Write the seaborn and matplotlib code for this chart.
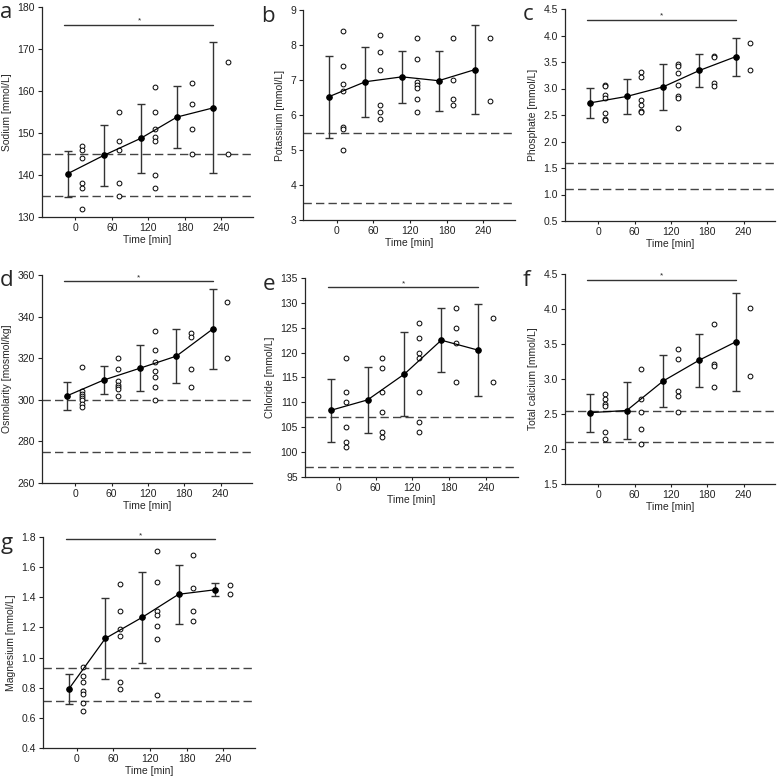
import numpy as np
import pandas as pd
import matplotlib
matplotlib.use("Agg")
import matplotlib.pyplot as plt
import seaborn as sns

# time points (min)
times = [0, 60, 120, 180, 240]

# ---- panel data ----
sodium_mean = [140.3, 144.7, 148.7, 153.8, 156.0]
sodium_sd = [5.5, 7.2, 8.2, 7.4, 15.6]
sodium_pts = [[147, 146, 144, 138, 137, 132], [155, 148, 146, 138, 135],
              [161, 155, 151, 149, 148, 140, 137], [162, 157, 151, 145], [167, 145]]

potassium_mean = [6.52, 6.95, 7.09, 6.98, 7.30]
potassium_sd = [1.18, 1.0, 0.74, 0.86, 1.28]
potassium_pts = [[8.4, 7.4, 6.9, 6.7, 5.65, 5.6, 5.0], [8.3, 7.8, 7.3, 6.28, 6.1, 5.9],
                 [8.2, 7.6, 6.95, 6.85, 6.78, 6.45, 6.1], [8.2, 7.0, 6.45, 6.3], [8.2, 6.4]]

phosphate_mean = [2.73, 2.85, 3.03, 3.34, 3.60]
phosphate_sd = [0.28, 0.33, 0.43, 0.31, 0.36]
phosphate_pts = [[3.06, 3.04, 2.87, 2.82, 2.53, 2.43, 2.41], [3.32, 3.21, 2.78, 2.68, 2.57, 2.55],
                 [3.46, 3.43, 3.30, 3.07, 2.85, 2.83, 2.26], [3.62, 3.60, 3.10, 3.05], [3.86, 3.35]]

osmo_mean = [302.0, 309.5, 315.2, 321.0, 334.0]
osmo_sd = [6.7, 6.6, 11.0, 12.8, 19.2]
osmo_pts = [[316, 304, 303, 302, 301, 300, 298, 296.5], [320, 315, 309, 307, 306, 305, 302],
            [333, 324, 318, 314, 311, 306, 300], [332, 330, 315, 306], [347, 320]]

chloride_mean = [108.4, 110.5, 115.7, 122.5, 120.5]
chloride_sd = [6.3, 6.7, 8.5, 6.4, 9.2]
chloride_pts = [[119, 112, 110, 105, 102, 101], [119, 117, 112, 108, 104, 103],
                [126, 123, 120, 119, 112, 106, 104], [129, 125, 122, 114], [127, 114]]

calcium_mean = [2.52, 2.55, 2.97, 3.27, 3.53]
calcium_sd = [0.27, 0.41, 0.37, 0.38, 0.70]
calcium_pts = [[2.79, 2.71, 2.64, 2.62, 2.25, 2.14], [3.15, 2.71, 2.53, 2.29, 2.07],
               [3.43, 3.28, 2.83, 2.76, 2.53], [3.79, 3.22, 3.19, 2.89], [4.02, 3.04]]

magnesium_mean = [0.79, 1.127, 1.266, 1.42, 1.45]
magnesium_sd = [0.10, 0.27, 0.30, 0.195, 0.043]
magnesium_pts = [[0.94, 0.88, 0.84, 0.78, 0.76, 0.70, 0.645], [1.49, 1.31, 1.19, 1.14, 0.84, 0.79],
                 [1.71, 1.50, 1.31, 1.28, 1.21, 1.12, 0.75], [1.68, 1.46, 1.31, 1.24], [1.48, 1.42]]

# reference ranges, y limits, labels, significance bar height (None = no bar)
panel_letters = ["a", "b", "c", "d", "e", "f", "g"]
y_labels = ["Sodium [mmol/L]", "Potassium [mmol/L]", "Phosphate [mmol/L]",
            "Osmolarity [mosmol/kg]", "Chloride [mmol/L]", "Total calcium [mmol/L]",
            "Magnesium [mmol/L]"]
ref_ranges = [[135, 145], [3.5, 5.5], [1.1, 1.6], [275, 300], [97, 107], [2.1, 2.55], [0.71, 0.93]]
y_limits = [[130, 180, 10], [3, 9, 1], [0.5, 4.5, 0.5], [260, 360, 20], [95, 135, 5],
            [1.5, 4.5, 0.5], [0.4, 1.8, 0.2]]
y_fmt = ["%d", "%d", "%.1f", "%d", "%d", "%.1f", "%.1f"]
sig_bar = [175.8, None, 4.30, 357.0, 133.2, 4.42, 1.785]

means = [sodium_mean, potassium_mean, phosphate_mean, osmo_mean, chloride_mean, calcium_mean, magnesium_mean]
sds = [sodium_sd, potassium_sd, phosphate_sd, osmo_sd, chloride_sd, calcium_sd, magnesium_sd]
points = [sodium_pts, potassium_pts, phosphate_pts, osmo_pts, chloride_pts, calcium_pts, magnesium_pts]

# axes boxes in pixels (left, top, right, bottom)
boxes = [(42, 7, 253, 217), (303, 10, 515, 220), (565, 9, 775, 221),
         (42, 275, 252, 483), (305, 278, 518, 477), (565, 274, 775, 484),
         (43, 537, 255, 748)]

W, H = 778, 779
sns.set_style("ticks")
plt.rcParams["font.family"] = ["Liberation Sans", "DejaVu Sans"]
fig = plt.figure(figsize=(W / 100, H / 100), dpi=100)

mean_shift = -13   # means drawn left of the time point
pt_shift = 11      # single values drawn right of it

for i in range(7):
    l, t, r, b = boxes[i]
    ax = fig.add_axes([l / W, 1 - b / H, (r - l) / W, (b - t) / H])

    df_m = pd.DataFrame({"time": np.array(times) + mean_shift, "mean": means[i], "sd": sds[i]})
    rows = []
    for tp, vals in zip(times, points[i]):
        for v in vals:
            rows.append({"time": tp + pt_shift, "value": v})
    df_p = pd.DataFrame(rows)

    # reference range
    for rv in ref_ranges[i]:
        ax.axhline(rv, color="#444444", lw=1.0, ls=(0, (6, 3)), zorder=1)

    # individual values
    sns.scatterplot(data=df_p, x="time", y="value", ax=ax, marker="o", s=12,
                    facecolor="white", edgecolor="black", linewidth=0.7, zorder=3)

    # mean +/- SD
    ax.errorbar(df_m["time"], df_m["mean"], yerr=df_m["sd"], fmt="none",
                ecolor="#333333", elinewidth=1.0, capsize=3, capthick=1.0, zorder=2)
    sns.lineplot(data=df_m, x="time", y="mean", ax=ax, color="black", lw=0.9,
                 marker="o", markersize=4, markeredgecolor="black", zorder=4)

    # significance bar
    if sig_bar[i] is not None:
        ax.plot([-18, 227], [sig_bar[i], sig_bar[i]], color="#333333", lw=1.0, clip_on=False)
        ax.text(105, sig_bar[i], "*", ha="center", va="bottom", fontsize=6)

    lo, hi, step = y_limits[i]
    ax.set_ylim(lo, hi)
    ax.set_yticks(np.arange(lo, hi + step / 2, step))
    ax.set_yticklabels([y_fmt[i] % v for v in np.arange(lo, hi + step / 2, step)])
    ax.set_xlim(-55, 292)
    ax.set_xticks(times)
    ax.set_xlabel("Time [min]", fontsize=7.5, labelpad=2)
    ax.set_ylabel(y_labels[i], fontsize=7.5, labelpad=4)
    ax.tick_params(labelsize=7.5, length=3, width=0.8, pad=2, colors="#222222")
    ax.tick_params(axis="x", length=2)
    for sp in ["left", "bottom"]:
        ax.spines[sp].set_linewidth(0.9)
    sns.despine(ax=ax)

    fig.text((l - 42) / W, 1 - (t + 6) / H, panel_letters[i], fontsize=16,
             family=["Open Sans", "DejaVu Sans"], ha="left", va="center")

fig.savefig("out.png", dpi=100)
